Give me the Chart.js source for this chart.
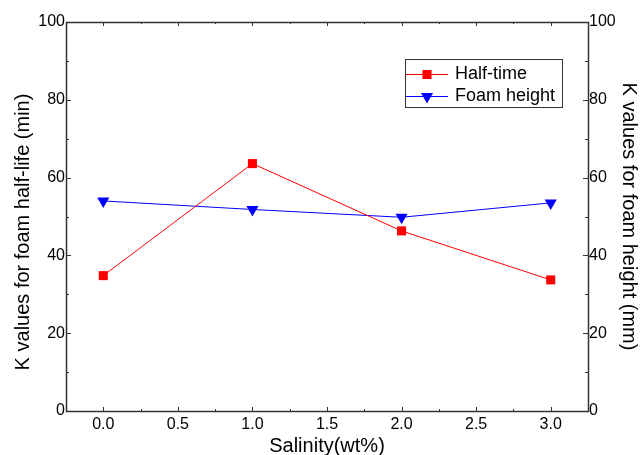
<!DOCTYPE html>
<html>
<head>
<meta charset="utf-8">
<script src="https://cdn.jsdelivr.net/npm/chart.js@4"></script>
<style>
html,body{margin:0;padding:0;background:#fff;}
canvas{display:block;}
</style>
</head>
<body>
<canvas id="c" width="644" height="455"></canvas>
<script>
const salinity = [0.0, 1.0, 2.0, 3.0];
const halfTime = [34.8, 63.6, 46.3, 33.7];
const foamHeight = [54.0, 51.8, 49.8, 53.5];
const xTicks = [0.0, 0.5, 1.0, 1.5, 2.0, 2.5, 3.0];
const yTicks = [0, 20, 40, 60, 80, 100];
const seriesNames = ['Half-time', 'Foam height'];
const xTitle = 'Salinity(wt%)';
const yLeftTitle = 'K values for foam half-life (min)';
const yRightTitle = 'K values for foam height (mm)';

const FONT = '"Liberation Sans", Arial, sans-serif';
const AXIS = '#333333';

const framePlugin = {
  id: 'frame',
  beforeDatasetsDraw(chart) {
    const {ctx, chartArea: a, scales} = chart;
    ctx.save();
    ctx.strokeStyle = AXIS;
    ctx.lineWidth = 1;
    // ticks
    ctx.beginPath();
    const xs = scales.x, yl = scales.y, yr = scales.y1;
    for (let v = 0; v <= 3.0001; v += 0.25) {
      const px = Math.round(xs.getPixelForValue(v)) + 0.5;
      const len = (Math.abs(v * 2 - Math.round(v * 2)) < 1e-6) ? 4 : 2;
      ctx.moveTo(px, a.bottom); ctx.lineTo(px, a.bottom - len);
      ctx.moveTo(px, a.top); ctx.lineTo(px, a.top + len);
    }
    for (let v = 0; v <= 100; v += 10) {
      const py = Math.round(yl.getPixelForValue(v)) + 0.5;
      const len = (v % 20 === 0) ? 5 : 3;
      ctx.moveTo(a.left, py); ctx.lineTo(a.left + len, py);
      const py2 = Math.round(yr.getPixelForValue(v)) + 0.5;
      ctx.moveTo(a.right, py2); ctx.lineTo(a.right - len, py2);
    }
    ctx.stroke();
    ctx.lineWidth = 1.5;
    ctx.strokeRect(Math.round(a.left) + 0.5, Math.round(a.top) + 0.5,
                   Math.round(a.right - a.left), Math.round(a.bottom - a.top));
    // titles
    ctx.fillStyle = '#000';
    ctx.font = '20px ' + FONT;
    ctx.textAlign = 'center';
    ctx.textBaseline = 'alphabetic';
    ctx.fillText(xTitle, (a.left + a.right) / 2, 452);
    ctx.save();
    ctx.translate(29, 232);
    ctx.rotate(-Math.PI / 2);
    ctx.fillText(yLeftTitle, 0, 0);
    ctx.restore();
    ctx.save();
    ctx.translate(623, (a.top + a.bottom) / 2);
    ctx.rotate(Math.PI / 2);
    ctx.fillText(yRightTitle, 0, 0);
    ctx.restore();
    ctx.restore();
  },
  afterDraw(chart) {
    const {ctx} = chart;
    ctx.save();
    ctx.strokeStyle = AXIS;
    ctx.lineWidth = 1;
    ctx.fillStyle = '#fff';
    ctx.fillRect(405, 59, 157, 48);
    ctx.strokeRect(405.5, 59.5, 157, 48);
    const rows = [74, 96];
    chart.data.datasets.forEach((ds, i) => {
      const y = rows[i] + 0.5;
      ctx.strokeStyle = ds.borderColor;
      ctx.lineWidth = 1;
      ctx.beginPath();
      ctx.moveTo(406, y); ctx.lineTo(448, y);
      ctx.stroke();
      ctx.fillStyle = ds.pointBackgroundColor;
      Chart.helpers.drawPoint(ctx, {pointStyle: ds.pointStyle, radius: ds.pointRadius, rotation: ds.pointRotation, borderWidth: 0}, 427, y);
      ctx.fillStyle = '#000';
      ctx.font = '18px ' + FONT;
      ctx.textAlign = 'left';
      ctx.textBaseline = 'middle';
      ctx.fillText(ds.label, 455, rows[i]);
    });
    ctx.restore();
  }
};

new Chart(document.getElementById('c'), {
  type: 'line',
  data: {
    datasets: [
      {
        label: seriesNames[0],
        data: salinity.map((x, i) => ({x, y: halfTime[i]})),
        borderColor: '#ff0000',
        backgroundColor: '#ff0000',
        pointBackgroundColor: '#ff0000',
        pointBorderColor: '#ff0000',
        borderWidth: 1,
        pointStyle: 'rect',
        pointRadius: 6.4,
        pointBorderWidth: 0,
        pointRotation: 0,
        tension: 0,
        yAxisID: 'y'
      },
      {
        label: seriesNames[1],
        data: salinity.map((x, i) => ({x, y: foamHeight[i]})),
        borderColor: '#0000ff',
        backgroundColor: '#0000ff',
        pointBackgroundColor: '#0000ff',
        pointBorderColor: '#0000ff',
        borderWidth: 1,
        pointStyle: 'triangle',
        pointRadius: 7,
        pointBorderWidth: 0,
        pointRotation: 180,
        tension: 0,
        yAxisID: 'y1'
      }
    ]
  },
  options: {
    responsive: false,
    animation: false,
    layout: {padding: {top: 22, left: 0, right: 0, bottom: 0}},
    plugins: {legend: {display: false}, tooltip: {enabled: false}},
    scales: {
      x: {
        type: 'linear',
        min: -0.25,
        max: 3.25,
        afterBuildTicks(s) { s.ticks = xTicks.map(v => ({value: v})); },
        afterFit(s) { s.height = 44; },
        grid: {display: false, drawTicks: false},
        border: {display: false},
        ticks: {
          padding: 4,
          color: '#000',
          font: {family: FONT, size: 16},
          maxRotation: 0,
          callback: v => Number(v).toFixed(1)
        }
      },
      y: {
        position: 'left',
        min: 0, max: 100,
        afterBuildTicks(s) { s.ticks = yTicks.map(v => ({value: v})); },
        afterFit(s) { s.width = 66; },
        grid: {display: false, drawTicks: false},
        border: {display: false},
        ticks: {padding: 1, color: '#000', font: {family: FONT, size: 16}}
      },
      y1: {
        position: 'right',
        min: 0, max: 100,
        afterBuildTicks(s) { s.ticks = yTicks.map(v => ({value: v})); },
        afterFit(s) { s.width = 56; },
        grid: {display: false, drawTicks: false},
        border: {display: false},
        ticks: {padding: 1, color: '#000', font: {family: FONT, size: 16}}
      }
    }
  },
  plugins: [framePlugin]
});
</script>
</body>
</html>
